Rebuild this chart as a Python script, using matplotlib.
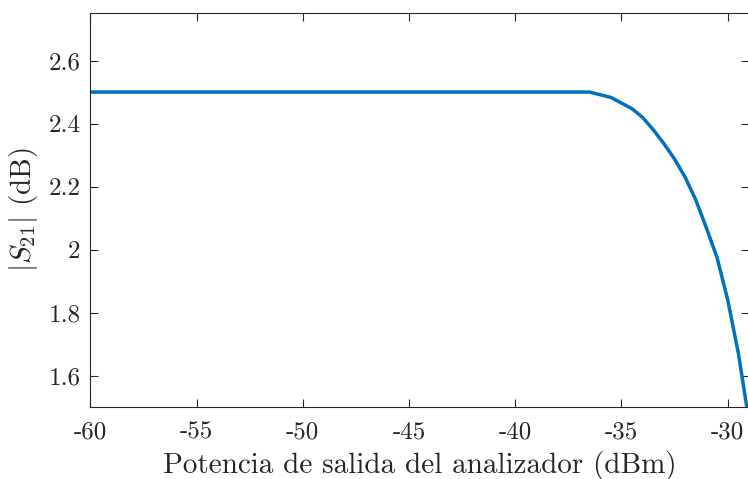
import matplotlib
matplotlib.use("Agg")
import matplotlib.pyplot as plt

plt.rcParams["font.family"] = "serif"
plt.rcParams["font.serif"] = ["cmr10"]
plt.rcParams["mathtext.fontset"] = "cm"
plt.rcParams["axes.unicode_minus"] = False

# Output power sweep (dBm) and measured |S21| (dB)
potencia = [-60, -36.5, -35.5, -34.5, -34, -33.5, -33, -32.5, -32, -31.5,
            -31, -30.5, -30, -29.5, -29]
s21 = [2.5, 2.5, 2.483, 2.447, 2.419, 2.380, 2.336, 2.287, 2.229, 2.157,
       2.068, 1.974, 1.840, 1.671, 1.456]

xticks = [-60, -55, -50, -45, -40, -35, -30]
yticks = [1.6, 1.8, 2.0, 2.2, 2.4, 2.6]
xticklabels = ["-60", "-55", "-50", "-45", "-40", "-35", "-30"]
yticklabels = ["1.6", "1.8", "2", "2.2", "2.4", "2.6"]

fig = plt.figure(figsize=(7.48, 4.79), dpi=100)
ax = fig.add_axes([0.1207, 0.1503, 0.8806, 0.8219])

ax.plot(potencia, s21, color="#0072BD", linewidth=2.5, solid_joinstyle="round")

ax.set_xlim(-60, -29)
ax.set_ylim(1.5, 2.75)
ax.set_xticks(xticks)
ax.set_xticklabels(xticklabels)
ax.set_yticks(yticks)
ax.set_yticklabels(yticklabels)

edge = "#262626"
for s in ax.spines.values():
    s.set_color(edge)
    s.set_linewidth(0.8)
ax.tick_params(direction="in", length=6, width=0.8, colors=edge,
               top=True, right=True, labelsize=18)
ax.tick_params(axis="x", pad=10)
ax.tick_params(axis="y", pad=7)

ax.set_xlabel("Potencia de salida del analizador (dBm)", fontsize=21,
              color=edge, labelpad=6)
ax.set_ylabel(r"$|S_{21}|$ (dB)", fontsize=21, color=edge, labelpad=6)

fig.savefig("out.png", dpi=100)
